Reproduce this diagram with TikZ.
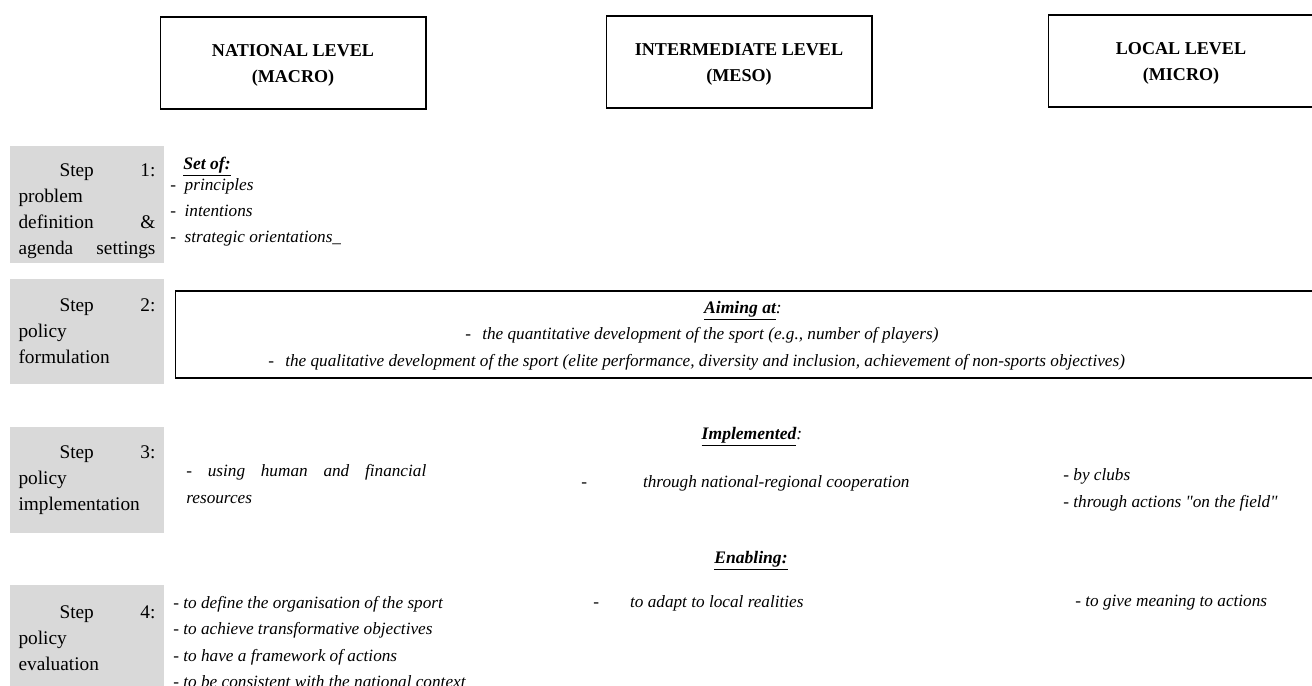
\documentclass[tikz,border=0pt]{standalone}
\usepackage{fontspec}
\setmainfont{Liberation Serif}
\usetikzlibrary{positioning}

\begin{document}
\begin{tikzpicture}[x=0.02cm, y=-0.02cm,
    hdr/.style={draw, line width=0.6pt, minimum width=5.32cm, minimum height=1.84cm,
                align=center, font=\fontsize{10.3}{14.8}\selectfont\bfseries},
    stepbox/.style={fill=black!15, text width=2.74cm, inner xsep=0.18cm, inner ysep=0pt,
                align=left, font=\fontsize{11}{14.8}\selectfont},
    txt/.style={inner sep=0pt, anchor=west, align=left,
                font=\fontsize{9.8}{15}\selectfont\itshape},
    ttl/.style={inner sep=0pt, font=\fontsize{10}{15}\selectfont\itshape},
    frame/.style={draw, line width=0.6pt, minimum width=22.8cm, minimum height=1.74cm},
  ]
  \useasboundingbox (0,0) rectangle (1312,686);

  % levels
  \node[hdr] (nat) at (293,63) {\rule{0pt}{10pt}NATIONAL LEVEL\\(MACRO)};
  \node[hdr] (inter) at (739,62) {\rule{0pt}{10pt}INTERMEDIATE LEVEL\\(MESO)};
  \node[hdr] (loc) at (1181,61) {\rule{0pt}{10pt}LOCAL LEVEL\\(MICRO)};

  % steps
  \node[stepbox, minimum height=2.34cm] (s1) at (87,204.5)
    {\rule{0pt}{15pt}\hspace*{0.82cm}Step\hfill 1:\\problem\\definition\hfill\&\\agenda\hfill settings};
  \node[stepbox, minimum height=2.1cm] (s2) at (87,331.5)
    {\hspace*{0.82cm}Step\hfill 2:\\policy\\formulation};
  \node[stepbox, minimum height=2.12cm] (s3) at (87,480)
    {\hspace*{0.82cm}Step\hfill 3:\\policy\\implementation};
  \node[stepbox, minimum height=2.12cm] (s4) at (87,638)
    {\hspace*{0.82cm}Step\hfill 4:\\policy\\evaluation};

  % step 1
  \node[ttl, anchor=west] (setof) at (183,167) {\underline{\textbf{Set of:}}};
  \node[txt] (setlist) at (170,212.5)
    {-\hspace{0.5em}principles\\-\hspace{0.5em}intentions\\-\hspace{0.5em}strategic orientations\_};

  % step 2
  \node[frame] (aimbox) at (745,334.5) {};
  \node[ttl] (aim) at (743,311) {\underline{\textbf{Aiming at}}:};
  \node[txt] (quant) at (465,335)
    {-\hspace{0.65em}the quantitative development of the sport (e.g., number of players)};
  \node[txt] (qual) at (268,362)
    {-\hspace{0.65em}the qualitative development of the sport (elite performance, diversity and inclusion, achievement of non-sports objectives)};

  % step 3
  \node[ttl] (impl) at (752,437) {\underline{\textbf{Implemented}}:};
  \node[txt] (res) at (186,484)
    {\makebox[4.8cm][s]{- using human and financial}\\resources};
  \node[txt] (coop) at (581,483) {-\hspace{3.25em}through national-regional cooperation};
  \node[txt] (clubs) at (1063,490)
    {- by clubs\\- through actions \textquotedbl on the field\textquotedbl};

  % step 4
  \node[ttl] (enab) at (751,561) {\underline{\textbf{Enabling:}}};
  \node[txt, font=\fontsize{9.8}{15.1}\selectfont\itshape] (define) at (173,642)
    {- to define the organisation of the sport\\- to achieve transformative objectives\\- to have a framework of actions\\- to be consistent with the national context};
  \node[txt] (adapt) at (593,603) {-\hspace{1.8em}to adapt to local realities};
  \node[txt] (meaning) at (1075,603) {- to give meaning to actions};
\end{tikzpicture}
\end{document}
